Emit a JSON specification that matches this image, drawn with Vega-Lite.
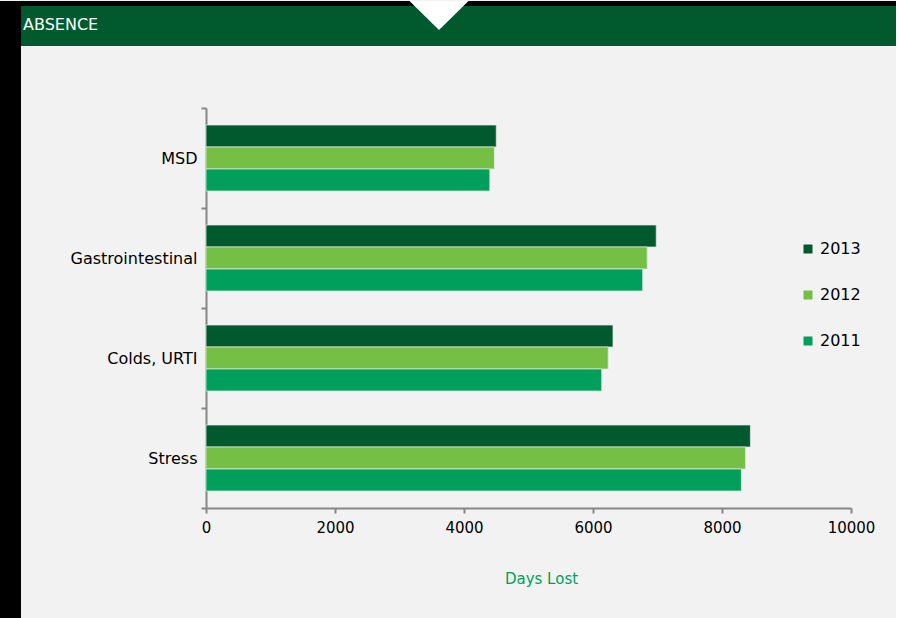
{
  "$schema": "https://vega.github.io/schema/vega-lite/v6.json",
  "background": "#f2f2f2",
  "padding": 0,
  "autosize": {"type": "pad"},
  "bounds": "flush",
  "spacing": 0,
  "config": {
    "font": "DejaVu Sans",
    "view": {"stroke": null}
  },
  "datasets": {
    "one": [{"k": 1}],
    "header": [{"label": "ABSENCE", "pos": 0}],
    "absence": [
      {"cause": "MSD", "year": "2013", "days": 4500},
      {"cause": "MSD", "year": "2012", "days": 4470},
      {"cause": "MSD", "year": "2011", "days": 4400},
      {"cause": "Gastrointestinal", "year": "2013", "days": 6980},
      {"cause": "Gastrointestinal", "year": "2012", "days": 6840},
      {"cause": "Gastrointestinal", "year": "2011", "days": 6770},
      {"cause": "Colds, URTI", "year": "2013", "days": 6310},
      {"cause": "Colds, URTI", "year": "2012", "days": 6235},
      {"cause": "Colds, URTI", "year": "2011", "days": 6135},
      {"cause": "Stress", "year": "2013", "days": 8440},
      {"cause": "Stress", "year": "2012", "days": 8365},
      {"cause": "Stress", "year": "2011", "days": 8300}
    ]
  },
  "hconcat": [
    {
      "data": {"name": "one"},
      "width": 18,
      "height": 618,
      "view": {"fill": "#000000", "stroke": null},
      "mark": {"type": "point", "opacity": 0}
    },
    {
      "bounds": "flush",
      "spacing": 0,
      "vconcat": [
        {
          "data": {"name": "one"},
          "width": 878,
          "height": 5,
          "view": {"fill": "#000000", "stroke": null},
          "mark": {"type": "point", "opacity": 0}
        },
        {
          "width": 878,
          "height": 40,
          "view": {"fill": "#005a2e", "stroke": null},
          "layer": [
            {
              "data": {"name": "one"},
              "mark": {
                "type": "point",
                "shape": "M-1.61,-0.847L0.39,-0.847L-0.61,0.136Z",
                "size": 3481,
                "filled": true,
                "color": "#ffffff",
                "opacity": 1,
                "strokeWidth": 0
              }
            },
            {
              "data": {"name": "header"},
              "mark": {
                "type": "text",
                "align": "left",
                "baseline": "middle",
                "dx": 5,
                "dy": -1,
                "color": "#ffffff",
                "fontSize": 16,
                "font": "DejaVu Sans"
              },
              "encoding": {
                "x": {
                  "field": "pos",
                  "type": "quantitative",
                  "scale": {"domain": [0, 1], "nice": false, "zero": false},
                  "axis": null
                },
                "text": {"field": "label", "type": "nominal"}
              }
            }
          ]
        },
        {
          "data": {"name": "one"},
          "width": 878,
          "height": 62,
          "mark": {"type": "point", "opacity": 0}
        },
        {
          "bounds": "flush",
          "spacing": 0,
          "hconcat": [
            {
              "data": {"name": "one"},
              "width": 188,
              "height": 400,
              "mark": {"type": "point", "opacity": 0}
            },
            {
              "data": {"name": "absence"},
              "width": 645,
              "height": 400,
              "mark": {"type": "bar", "stroke": "#dfe8df", "strokeWidth": 0.75},
              "encoding": {
                "y": {
                  "field": "cause",
                  "type": "nominal",
                  "sort": ["MSD", "Gastrointestinal", "Colds, URTI", "Stress"],
                  "scale": {"paddingInner": 0, "paddingOuter": 0},
                  "axis": {
                    "title": null,
                    "tickBand": "extent",
                    "domainColor": "#868686",
                    "domainWidth": 2,
                    "tickColor": "#868686",
                    "tickWidth": 2,
                    "tickSize": 5,
                    "labelFont": "DejaVu Sans",
                    "labelFontSize": 16,
                    "labelColor": "#000000",
                    "labelPadding": 4
                  }
                },
                "yOffset": {
                  "field": "year",
                  "type": "nominal",
                  "sort": "descending",
                  "scale": {"paddingInner": 0, "paddingOuter": 0.773}
                },
                "x": {
                  "field": "days",
                  "type": "quantitative",
                  "scale": {"domain": [0, 10000], "nice": false},
                  "axis": {
                    "title": "Days Lost",
                    "values": [0, 2000, 4000, 6000, 8000, 10000],
                    "format": "d",
                    "grid": false,
                    "domainColor": "#868686",
                    "domainWidth": 2,
                    "tickColor": "#868686",
                    "tickWidth": 2,
                    "tickSize": 5,
                    "labelFont": "DejaVu Sans",
                    "labelFontSize": 15,
                    "labelColor": "#000000",
                    "labelPadding": 7,
                    "labelFlush": false,
                    "titleFont": "DejaVu Sans",
                    "titleFontSize": 15,
                    "titleFontWeight": "normal",
                    "titleColor": "#00a05c",
                    "titleX": 335,
                    "titleY": 75,
                    "titleAlign": "center",
                    "titleBaseline": "alphabetic"
                  }
                },
                "color": {
                  "field": "year",
                  "type": "nominal",
                  "scale": {
                    "domain": ["2013", "2012", "2011"],
                    "range": ["#005a2e", "#74bf44", "#00a05c"]
                  },
                  "legend": {
                    "title": null,
                    "orient": "none",
                    "legendX": 800,
                    "legendY": 240,
                    "padding": 0,
                    "symbolType": "square",
                    "symbolSize": 81,
                    "symbolStrokeWidth": 0,
                    "labelFont": "DejaVu Sans",
                    "labelFontSize": 16,
                    "labelColor": "#000000",
                    "labelOffset": 4,
                    "rowPadding": 30
                  }
                }
              }
            }
          ]
        }
      ]
    },
    {
      "data": {"name": "one"},
      "width": 3,
      "height": 618,
      "view": {"fill": "#000000", "stroke": null},
      "mark": {"type": "point", "opacity": 0}
    }
  ]
}
